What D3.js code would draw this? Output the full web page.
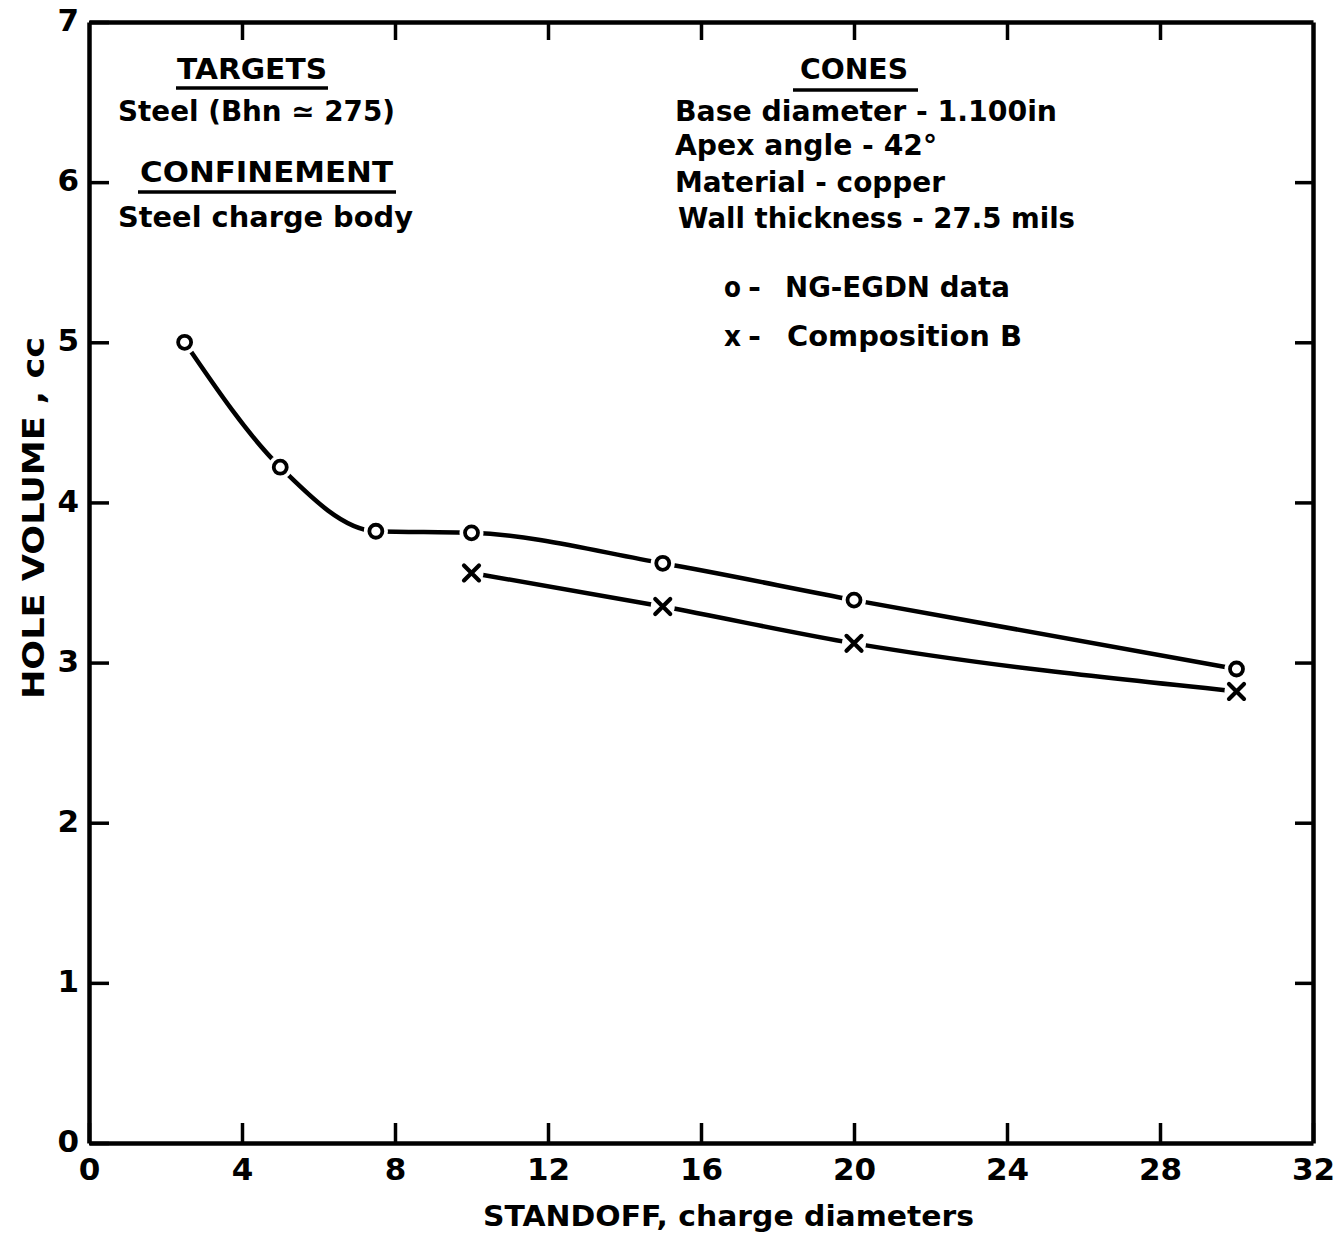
<!DOCTYPE html>
<html>
<head>
<meta charset="utf-8">
<script src="https://cdn.jsdelivr.net/npm/d3@7"></script>
<style>
  html, body { margin: 0; padding: 0; background: #fff; }
  svg { display: block; }
  text { font-family: "DejaVu Sans", "Liberation Sans", sans-serif; font-weight: bold; fill: #000; }
</style>
</head>
<body>
<svg id="chart" width="1339" height="1237"></svg>
<script>
// ---- data ----
const xTicks = [0, 4, 8, 12, 16, 20, 24, 28, 32];
const yTicks = [0, 1, 2, 3, 4, 5, 6, 7];
const ngStandoff = [2.5, 5, 7.5, 10, 15, 20, 30];
const ngVolume   = [5.00, 4.22, 3.82, 3.81, 3.62, 3.39, 2.96];
const cbStandoff = [10, 15, 20, 30];
const cbVolume   = [3.56, 3.35, 3.12, 2.82];
const xTitle = "STANDOFF, charge diameters";
const yTitle = "HOLE VOLUME , cc";
const legendLabels = ["NG-EGDN data", "Composition B"];

(function () {
const svg = d3.select("#chart");
const pLeft = 89, pRight = 1313, pTop = 22, pBottom = 1143;
const x = d3.scaleLinear().domain([0, 32]).range([pLeft, pRight]);
const y = d3.scaleLinear().domain([0, 7]).range([pBottom, pTop]);

const axisStyle = g => {
  g.select(".domain").attr("stroke", "#000").attr("stroke-width", 4.5);
  g.selectAll(".tick line").attr("stroke", "#000").attr("stroke-width", 3.5);
  g.selectAll(".tick text").style("font-size", "31px").attr("fill", "#000");
};

// bottom axis
svg.append("g").attr("transform", `translate(0,${pBottom})`)
  .call(d3.axisBottom(x).tickValues(xTicks).tickSizeInner(-20).tickSizeOuter(0).tickPadding(15).tickFormat(d3.format("d")))
  .call(axisStyle)
  .call(g => g.selectAll(".tick text").attr("dy", "0.72em"));
// top axis
svg.append("g").attr("transform", `translate(0,${pTop})`)
  .call(d3.axisTop(x).tickValues(xTicks.slice(1, -1)).tickSizeInner(-18).tickSizeOuter(0).tickFormat(""))
  .call(axisStyle);
// left axis
svg.append("g").attr("transform", `translate(${pLeft},0)`)
  .call(d3.axisLeft(y).tickValues(yTicks).tickSizeInner(-20).tickSizeOuter(0).tickPadding(10).tickFormat(d3.format("d")))
  .call(axisStyle)
  .call(g => g.selectAll(".tick text").attr("dy", "0.28em"));
// right axis
svg.append("g").attr("transform", `translate(${pRight},0)`)
  .call(d3.axisRight(y).tickValues(yTicks.slice(1, -1)).tickSizeInner(-18).tickSizeOuter(0).tickFormat(""))
  .call(axisStyle);

// curves
const line = d3.line().x(d => x(d[0])).y(d => y(d[1])).curve(d3.curveMonotoneX);
const ngData = ngStandoff.map((s, i) => [s, ngVolume[i]]);
const cbData = cbStandoff.map((s, i) => [s, cbVolume[i]]);
[ngData, cbData].forEach(data => {
  svg.append("path").datum(data).attr("d", line)
    .attr("fill", "none").attr("stroke", "#000").attr("stroke-width", 4.5).attr("stroke-linecap", "round");
});

// white halos to break the curves near markers
svg.append("g").selectAll("circle").data(ngData.concat(cbData)).join("circle")
  .attr("cx", d => x(d[0])).attr("cy", d => y(d[1])).attr("r", 12).attr("fill", "#fff");

// circle markers
svg.append("g").selectAll("circle").data(ngData).join("circle")
  .attr("cx", d => x(d[0])).attr("cy", d => y(d[1])).attr("r", 6.5)
  .attr("fill", "#fff").attr("stroke", "#000").attr("stroke-width", 3.8);
// x markers
const xm = svg.append("g");
cbData.forEach(d => {
  const cx = x(d[0]), cy = y(d[1]), s = 7.5;
  xm.append("path")
    .attr("d", `M${cx - s},${cy - s}L${cx + s},${cy + s}M${cx - s},${cy + s}L${cx + s},${cy - s}`)
    .attr("stroke", "#000").attr("stroke-width", 4.2).attr("stroke-linecap", "round");
});

// annotation text
function txt(str, xx, yy, len, size, anchor) {
  const t = svg.append("text").attr("x", xx).attr("y", yy).text(str)
    .style("font-size", size + "px").attr("text-anchor", anchor || "start");
  if (len) t.attr("textLength", len).attr("lengthAdjust", "spacingAndGlyphs");
  return t;
}
function underline(x1, x2, yy) {
  svg.append("line").attr("x1", x1).attr("x2", x2).attr("y1", yy).attr("y2", yy)
    .attr("stroke", "#000").attr("stroke-width", 3.5);
}

txt("TARGETS", 177, 79, 150, 28);
underline(176, 328, 88);
txt("Steel (Bhn \u2243 275)", 118, 121, 277, 28);
txt("CONFINEMENT", 140, 182, 253, 28);
underline(138, 396, 192);
txt("Steel charge body", 118, 227, 295, 28);

txt("CONES", 800, 79, 108, 28);
underline(793, 918, 90);
txt("Base diameter - 1.100in", 675, 121, 382, 28);
txt("Apex angle -  42\u00b0", 675, 155, 262, 28);
txt("Material - copper", 675, 192, 270, 28);
txt("Wall thickness - 27.5 mils", 678, 228, 397, 28);

// legend
txt("o", 724, 297, 17, 28);
txt("-", 748, 297, 13, 28);
txt(legendLabels[0], 785, 297, 225, 28);
txt("x", 724, 346, 17, 28);
txt("-", 748, 346, 13, 28);
txt(legendLabels[1], 787, 346, 235, 28);

// axis titles
txt(xTitle, 483, 1226, 491, 28);
svg.append("text")
  .attr("transform", `translate(44,${(337 + 699) / 2}) rotate(-90)`)
  .attr("text-anchor", "middle")
  .attr("textLength", 362).attr("lengthAdjust", "spacingAndGlyphs")
  .style("font-size", "30px")
  .text(yTitle);
})();
</script>
</body>
</html>
